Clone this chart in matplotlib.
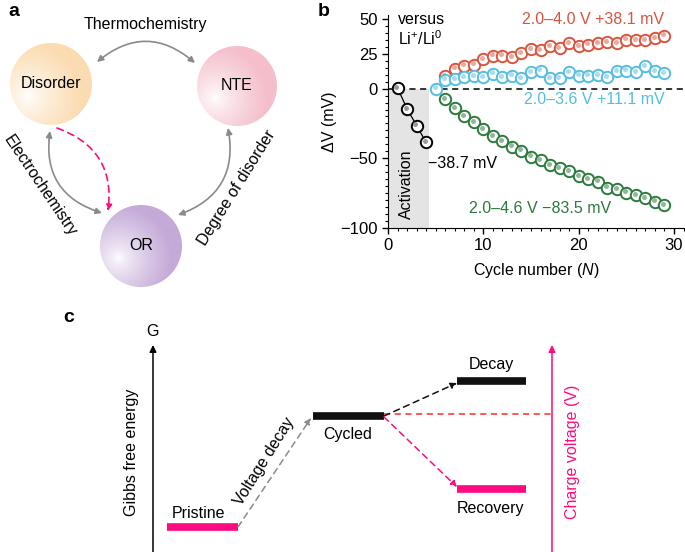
import numpy as np
import matplotlib
matplotlib.use("Agg")
import matplotlib.pyplot as plt
from matplotlib.colors import to_rgb
from matplotlib.patches import Circle, FancyArrowPatch
from matplotlib.ticker import FixedLocator, MultipleLocator

plt.rcParams["font.family"] = ["Liberation Sans", "DejaVu Sans"]
plt.rcParams["mathtext.fontset"] = "custom"
plt.rcParams["mathtext.rm"] = "Liberation Sans"
plt.rcParams["mathtext.it"] = "Liberation Sans:italic"

# ---------------- data: panel b ----------------
cyc_act = [1, 2, 3, 4]
dv_act = [0.5, -14.5, -26.5, -38.7]

cyc_36 = list(range(5, 30))
dv_36 = [0.0, 6.5, 7.0, 8.4, 8.9, 8.4, 10.8, 8.4, 9.4, 7.7, 11.8, 13.0, 7.7,
         7.5, 11.8, 9.4, 9.4, 9.9, 8.2, 12.5, 13.0, 11.8, 16.1, 12.5, 11.1]

cyc_40 = list(range(6, 30))
dv_40 = [8.9, 14.4, 16.6, 17.3, 21.4, 23.8, 23.8, 22.8, 25.7, 28.6, 27.6, 30.5,
         29.3, 32.5, 30.5, 31.7, 32.9, 33.7, 32.9, 35.3, 34.9, 34.9, 36.5, 38.1]

cyc_46 = list(range(6, 30))
dv_46 = [-7.5, -13.9, -19.5, -24.3, -29.1, -33.9, -37.5, -41.6, -44.5, -48.8,
         -51.2, -54.8, -57.2, -59.1, -62.7, -65.1, -66.8, -71.2, -72.4, -74.8,
         -76.4, -78.8, -81.3, -83.5]

# ---------------- data: panel c (schematic levels, figure pixels) ----------------
states = ["Pristine", "Cycled", "Decay", "Recovery"]
state_x = [(167, 238), (313, 384), (457, 526), (457, 526)]
state_G = [527, 416, 381, 489]
state_col = ["#ff0a80", "#111111", "#111111", "#ff0a80"]

W, H = 685, 552
RED, CYAN, GREEN = "#d9543c", "#55bde0", "#2b7a3b"
PINK = "#ff0a80"
GRAY = "#8a8a8a"
FS = 11.5

fig = plt.figure(figsize=(W / 100, H / 100), dpi=100)
ov = fig.add_axes([0, 0, 1, 1])
ov.axis("off")


def sphere(cx, cy, r, base, label):
    n = 240
    yy, xx = np.mgrid[-1:1:n * 1j, -1:1:n * 1j]
    d = np.hypot(xx + 0.55, yy - 0.3)
    t = np.clip(d / 1.3, 0, 1) ** 0.75
    c = np.array(to_rgb(base))
    img = (1 - t[..., None]) + t[..., None] * c
    im = ov.imshow(img, extent=(cx - r, cx + r, cy + r, cy - r), origin="upper",
                   interpolation="bilinear", zorder=1)
    clip = Circle((cx, cy), r, facecolor="none", edgecolor="none")
    ov.add_patch(clip)
    im.set_clip_path(clip)
    ov.text(cx, cy, label, ha="center", va="center", fontsize=FS, zorder=3)


# ---------------- panel a ----------------
sphere(51, 84, 41, "#fbdcb2", "Disorder")
sphere(237, 86, 40, "#f4bfcb", "NTE")
sphere(141, 246, 41, "#c4aad8", "OR")

def arc(p0, p1, rad, style, color, ls="-"):
    a = FancyArrowPatch(p0, p1, connectionstyle=f"arc3,rad={rad}", arrowstyle=style,
                        mutation_scale=9, color=color, lw=1.2, linestyle=ls,
                        shrinkA=0, shrinkB=0, zorder=4)
    ov.add_patch(a)

arc((97, 62), (195, 63), -0.42, "<|-|>", GRAY)
arc((50, 131), (102, 213), 0.42, "<|-|>", GRAY)
arc((228, 128), (178, 215), -0.42, "<|-|>", GRAY)
arc((57, 128), (108, 211), -0.4, "-|>", PINK, ls=(0, (4, 3)))

ov.text(145, 25, "Thermochemistry", ha="center", va="center", fontsize=FS)
ov.text(40, 186, "Electrochemistry", ha="center", va="center", fontsize=FS, rotation=-56)
ov.text(237, 188, "Degree of disorder", ha="center", va="center", fontsize=FS, rotation=58)

# ---------------- panel c ----------------
for name, (x0, x1), g, col in zip(states, state_x, state_G, state_col):
    ov.plot([x0, x1], [g, g], color=col, lw=5.5, solid_capstyle="butt", zorder=3)

ov.text(199, 513, "Pristine", ha="center", va="center", fontsize=FS)
ov.text(348, 435, "Cycled", ha="center", va="center", fontsize=FS)
ov.text(491, 365, "Decay", ha="center", va="center", fontsize=FS)
ov.text(491, 509, "Recovery", ha="center", va="center", fontsize=FS)
ov.text(264, 461, "Voltage decay", ha="center", va="center", fontsize=FS, rotation=58)

arrow_kw = dict(mutation_scale=9, lw=1.1, linestyle=(0, (4, 3)), shrinkA=0, shrinkB=0, zorder=4)
ov.add_patch(FancyArrowPatch((state_x[0][1], state_G[0]), (state_x[1][0] - 2, state_G[1] + 2),
                             arrowstyle="-|>", color=GRAY, **arrow_kw))
ov.add_patch(FancyArrowPatch((state_x[1][1], state_G[1]), (state_x[2][0], state_G[2] + 2),
                             arrowstyle="-|>", color="#111111", **arrow_kw))
ov.add_patch(FancyArrowPatch((state_x[1][1], state_G[1] + 1), (state_x[3][0], state_G[3] - 2),
                             arrowstyle="-|>", color=PINK, **arrow_kw))
ov.plot([state_x[1][1], 552], [state_G[1] - 2, state_G[1] - 2], color="#ff2a2a", lw=1.1,
        ls=(0, (4, 3)), zorder=3)

ov.annotate("", xy=(153, 345), xytext=(153, 553),
            arrowprops=dict(arrowstyle="-|>", color="black", lw=1.1, mutation_scale=10,
                            shrinkA=0, shrinkB=0))
ov.annotate("", xy=(552, 345), xytext=(552, 553),
            arrowprops=dict(arrowstyle="-|>", color=PINK, lw=1.1, mutation_scale=10,
                            shrinkA=0, shrinkB=0))
ov.text(153, 331, "G", ha="center", va="center", fontsize=FS)
ov.text(132, 452, "Gibbs free energy", ha="center", va="center", fontsize=FS, rotation=90)
ov.text(573, 452, "Charge voltage (V)", ha="center", va="center", fontsize=FS,
        rotation=90, color=PINK)

# panel letters
for lx, ly, s in [(8, 11, "a"), (318, 11, "b"), (63, 318, "c")]:
    ov.text(lx, ly, s, ha="left", va="center", fontsize=14, fontweight="bold")

ov.set_aspect("auto")
ov.set_xlim(0, W)
ov.set_ylim(H, 0)

# ---------------- panel b ----------------
ax = fig.add_axes([388 / W, 1 - 227.7 / H, (683.5 - 388) / W, (227.7 - 15) / H])
ax.set_xlim(0, 31)
ax.set_ylim(-100, 53)
ax.fill_between([0, 4.3], -100, 0, color="#e4e4e4", lw=0, zorder=0)
ax.axhline(0, color="black", lw=1.1, ls=(0, (4, 3)), zorder=1)
ax.plot(cyc_act, dv_act, color="black", lw=0.9, zorder=2)

series = [(cyc_act, dv_act, "black", "#9a9a9a"),
          (cyc_40, dv_40, RED, "#eba99e"),
          (cyc_36, dv_36, CYAN, "#a6dcef"),
          (cyc_46, dv_46, GREEN, "#8fb798")]
for i, (x, y, ec, dc) in enumerate(series):
    ax.plot(x, y, "o", ms=8.2, mfc="white", mec=ec, mew=1.4, zorder=3 + i)
    ax.plot(np.array(x) - 0.12, np.array(y) + 0.9, "o", ms=3.6, mfc=dc, mec="none", zorder=3 + i)

ax.text(1.0, 55, "versus\nLi$^{+}$/Li$^{0}$", ha="left", va="top", fontsize=FS, linespacing=1.15)
ax.text(29.0, 49.7, "2.0–4.0 V +38.1 mV", color=RED, ha="right", va="center", fontsize=FS)
ax.text(29.0, -7.9, "2.0–3.6 V +11.1 mV", color=CYAN, ha="right", va="center", fontsize=FS)
ax.text(4.2, -54, "−38.7 mV", ha="left", va="center", fontsize=FS)
ax.text(8.5, -86.5, "2.0–4.6 V −83.5 mV", color=GREEN, ha="left", va="center", fontsize=FS)
ax.text(1.95, -69, "Activation", rotation=90, ha="center", va="center", fontsize=FS)

ax.spines[["top", "right"]].set_visible(False)
ax.yaxis.set_major_locator(FixedLocator([-100, -50, 0, 25, 50]))
ax.yaxis.set_minor_locator(MultipleLocator(5))
ax.xaxis.set_major_locator(FixedLocator([0, 10, 20, 30]))
ax.xaxis.set_minor_locator(MultipleLocator(1))
ax.tick_params(which="major", length=4, width=1, labelsize=12)
ax.tick_params(which="minor", length=2.2, width=0.8)
ax.set_xlabel("Cycle number ($\\it{N}$)", fontsize=FS, labelpad=6)
ax.set_ylabel("ΔV (mV)", fontsize=FS, labelpad=2)

fig.savefig("out.png", dpi=100)
